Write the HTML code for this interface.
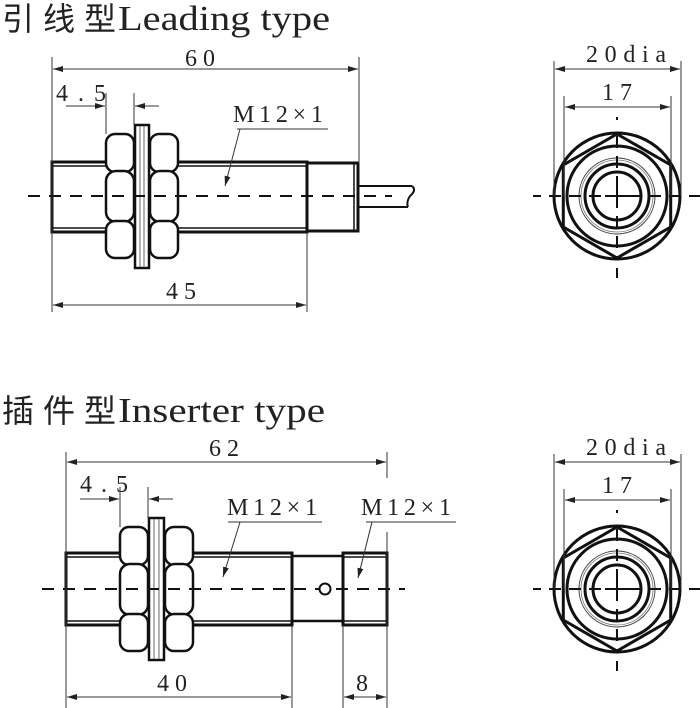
<!DOCTYPE html>
<html><head><meta charset="utf-8"><style>
html,body{margin:0;padding:0;background:#fff;}
svg{display:block;}
text{font-family:"Liberation Serif",serif;fill:#222;}
.t{font-family:"Liberation Serif",serif;}
</style></head><body>
<svg width="700" height="708" viewBox="0 0 700 708" xmlns="http://www.w3.org/2000/svg">
<defs>
<marker id="a" viewBox="0 0 10 6" refX="10" refY="3" markerWidth="10" markerHeight="6" orient="auto-start-reverse" markerUnits="userSpaceOnUse"><path d="M0,0 L10,3 L0,6 z" fill="#222"/></marker>
<g id="nut">
<rect x="0" y="0" width="28" height="38" rx="9" fill="#fff" stroke="#111" stroke-width="2.5"/>
<rect x="0" y="37" width="28" height="51" rx="10" fill="#fff" stroke="#111" stroke-width="2.5"/>
<rect x="0" y="87" width="28" height="37" rx="9" fill="#fff" stroke="#111" stroke-width="2.5"/>
</g>
<g id="end">
<circle cx="0" cy="0" r="63" fill="none" stroke="#111" stroke-width="3"/>
<polygon points="0,-62 53.7,-31 53.7,31 0,62 -53.7,31 -53.7,-31" fill="none" stroke="#111" stroke-width="3"/>
<circle cx="0" cy="0" r="50" fill="none" stroke="#111" stroke-width="3"/>
<circle cx="0" cy="0" r="38" fill="none" stroke="#444" stroke-width="1"/>
<circle cx="0" cy="0" r="36" fill="none" stroke="#777" stroke-width="0.8"/>
<circle cx="0" cy="0" r="32" fill="none" stroke="#111" stroke-width="3"/>
<circle cx="0" cy="0" r="24" fill="none" stroke="#111" stroke-width="3"/>
<line x1="-84" y1="0" x2="84" y2="0" stroke="#111" stroke-width="2" stroke-dasharray="12,8" stroke-dashoffset="4"/>
<line x1="-12" y1="0" x2="12" y2="0" stroke="#111" stroke-width="2"/>
<line x1="0" y1="-62" x2="0" y2="62" stroke="#111" stroke-width="2" stroke-dasharray="12,8" stroke-dashoffset="-2"/>
<line x1="0" y1="-12" x2="0" y2="12" stroke="#111" stroke-width="2"/>
<line x1="0" y1="-79" x2="0" y2="-76" stroke="#111" stroke-width="2"/>
<line x1="0" y1="72" x2="0" y2="82" stroke="#111" stroke-width="2"/>
<line x1="-63" y1="-135" x2="-63" y2="0" stroke="#333" stroke-width="1"/>
<line x1="64" y1="-135" x2="64" y2="0" stroke="#333" stroke-width="1"/>
<line x1="-53" y1="-100" x2="-53" y2="0" stroke="#333" stroke-width="1"/>
<line x1="54" y1="-100" x2="54" y2="0" stroke="#333" stroke-width="1"/>
<line x1="-62" y1="-127" x2="63" y2="-127" stroke="#333" stroke-width="1" marker-start="url(#a)" marker-end="url(#a)"/>
<line x1="-52" y1="-89" x2="53" y2="-89" stroke="#333" stroke-width="1" marker-start="url(#a)" marker-end="url(#a)"/>
<text class="t" x="-31" y="-134" font-size="24" textLength="80" lengthAdjust="spacing">20dia</text>
<text class="t" x="-15" y="-96" font-size="24" textLength="30" lengthAdjust="spacing">17</text>
</g>
</defs>

<!-- Titles -->
<text x="2" y="30" font-family="'Noto Sans CJK SC',sans-serif" font-size="32" textLength="114" lengthAdjust="spacing">引线型</text>
<text x="118" y="30" font-size="35" textLength="212" lengthAdjust="spacingAndGlyphs">Leading type</text>
<text x="2" y="422" font-family="'Noto Sans CJK SC',sans-serif" font-size="32" textLength="114" lengthAdjust="spacing">插件型</text>
<text x="118" y="422" font-size="35" textLength="207" lengthAdjust="spacingAndGlyphs">Inserter type</text>

<!-- ===== Top sensor ===== -->
<g stroke="#111" fill="none">
<rect x="52" y="162" width="255" height="70" stroke-width="3"/>
<line x1="52" y1="166" x2="307" y2="166" stroke-width="1.5"/>
<line x1="52" y1="228" x2="307" y2="228" stroke-width="1.5"/>
<rect x="307" y="163" width="51" height="68" stroke-width="3"/>
<line x1="354" y1="163" x2="354" y2="231" stroke-width="1.5"/>
<line x1="358" y1="186" x2="412" y2="186" stroke-width="2"/>
<line x1="358" y1="207" x2="408" y2="207" stroke-width="2"/>
<path d="M412,186 q5,4 -2,10 q-4,6 -2,11" stroke-width="2"/>
</g>
<use href="#nut" x="106" y="134"/>
<use href="#nut" x="150" y="134"/>
<rect x="135" y="125" width="14" height="143" fill="#fff" stroke="#111" stroke-width="2.5"/>
<line x1="140" y1="126" x2="140" y2="267" stroke="#666" stroke-width="1"/>
<line x1="144" y1="126" x2="144" y2="267" stroke="#666" stroke-width="1"/>
<line x1="28" y1="196" x2="392" y2="196" stroke="#111" stroke-width="2" stroke-dasharray="12,9"/>
<!-- dims top -->
<g stroke="#333" stroke-width="1" fill="none">
<line x1="52" y1="57" x2="52" y2="312"/>
<line x1="359" y1="57" x2="359" y2="163"/>
<line x1="307" y1="232" x2="307" y2="312"/>
<line x1="106" y1="93" x2="106" y2="134"/>
<line x1="134" y1="93" x2="134" y2="125"/>
<line x1="53" y1="69" x2="358" y2="69" marker-start="url(#a)" marker-end="url(#a)"/>
<line x1="53" y1="305" x2="306" y2="305" marker-start="url(#a)" marker-end="url(#a)"/>
<line x1="66" y1="106" x2="105" y2="106" marker-end="url(#a)"/>
<line x1="159" y1="106" x2="135" y2="106" marker-end="url(#a)"/>
<line x1="237" y1="129" x2="328" y2="129"/>
<line x1="240" y1="129" x2="225" y2="186" marker-end="url(#a)"/>
</g>
<text class="t" x="185" y="66" font-size="24" textLength="30" lengthAdjust="spacing">60</text>
<text class="t" x="56" y="101" font-size="24" textLength="50" lengthAdjust="spacing">4.5</text>
<text class="t" x="233" y="122" font-size="24" textLength="90" lengthAdjust="spacing">M12×1</text>
<text class="t" x="166" y="299" font-size="24" textLength="30" lengthAdjust="spacing">45</text>

<!-- ===== Bottom sensor ===== -->
<g stroke="#111" fill="none">
<rect x="66" y="553" width="226" height="72" stroke-width="3"/>
<line x1="66" y1="557" x2="292" y2="557" stroke-width="1.5"/>
<line x1="66" y1="621" x2="292" y2="621" stroke-width="1.5"/>
<rect x="292" y="556" width="51" height="65" stroke-width="2.5"/>
<rect x="343" y="553" width="44" height="72" stroke-width="3"/>
<line x1="343" y1="557" x2="387" y2="557" stroke-width="1.5"/>
<line x1="343" y1="621" x2="387" y2="621" stroke-width="1.5"/>
</g>
<use href="#nut" x="120" y="527"/>
<use href="#nut" x="165" y="527"/>
<rect x="149" y="518" width="15" height="142" fill="#fff" stroke="#111" stroke-width="2.5"/>
<line x1="154" y1="519" x2="154" y2="659" stroke="#666" stroke-width="1"/>
<line x1="159" y1="519" x2="159" y2="659" stroke="#666" stroke-width="1"/>
<line x1="42" y1="589" x2="405" y2="589" stroke="#111" stroke-width="2" stroke-dasharray="12,9"/>
<circle cx="325" cy="589" r="5.5" fill="#fff" stroke="#111" stroke-width="2"/>
<g stroke="#333" stroke-width="1" fill="none">
<line x1="66" y1="452" x2="66" y2="708"/>
<line x1="387" y1="452" x2="387" y2="478"/>
<line x1="387" y1="532" x2="387" y2="708"/>
<line x1="292" y1="625" x2="292" y2="708"/>
<line x1="343" y1="625" x2="343" y2="708"/>
<line x1="120" y1="487" x2="120" y2="527"/>
<line x1="148" y1="487" x2="148" y2="518"/>
<line x1="67" y1="462" x2="386" y2="462" marker-start="url(#a)" marker-end="url(#a)"/>
<line x1="67" y1="697" x2="291" y2="697" marker-start="url(#a)" marker-end="url(#a)"/>
<line x1="344" y1="697" x2="386" y2="697" marker-start="url(#a)" marker-end="url(#a)"/>
<line x1="80" y1="499" x2="119" y2="499" marker-end="url(#a)"/>
<line x1="173" y1="499" x2="149" y2="499" marker-end="url(#a)"/>
<line x1="228" y1="522" x2="322" y2="522"/>
<line x1="240" y1="522" x2="223" y2="577" marker-end="url(#a)"/>
<line x1="366" y1="522" x2="456" y2="522"/>
<line x1="372" y1="522" x2="358" y2="578" marker-end="url(#a)"/>
</g>
<text class="t" x="209" y="456" font-size="24" textLength="30" lengthAdjust="spacing">62</text>
<text class="t" x="80" y="492" font-size="24" textLength="48" lengthAdjust="spacing">4.5</text>
<text class="t" x="227" y="515" font-size="24" textLength="90" lengthAdjust="spacing">M12×1</text>
<text class="t" x="361" y="515" font-size="24" textLength="90" lengthAdjust="spacing">M12×1</text>
<text class="t" x="157" y="691" font-size="24" textLength="30" lengthAdjust="spacing">40</text>
<text class="t" x="356" y="691" font-size="24">8</text>

<!-- End views -->
<use href="#end" x="617" y="196"/>
<use href="#end" x="617" y="589"/>
</svg>
</body></html>
